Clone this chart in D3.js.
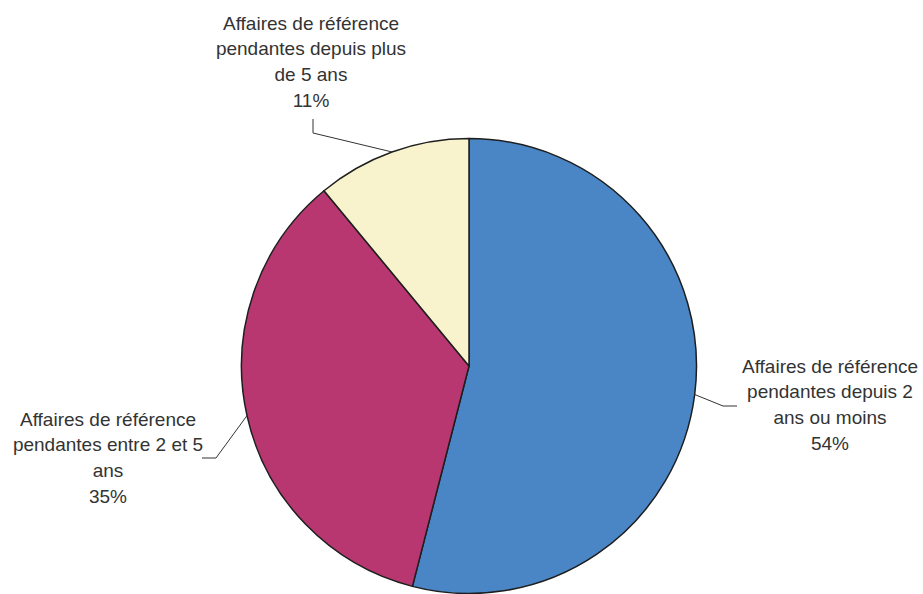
<!DOCTYPE html>
<html>
<head>
<meta charset="utf-8">
<script src="https://cdn.jsdelivr.net/npm/d3@7"></script>
<style>
  html, body { margin: 0; padding: 0; background: #fff; }
  svg { display: block; }
  text { font-family: "Liberation Sans", Arial, sans-serif; fill: #333; }
</style>
</head>
<body>
<svg id="chart" width="923" height="594"></svg>
<script>
// Pending reference cases by age
const categories = [
  "Affaires de référence pendantes depuis 2 ans ou moins",
  "Affaires de référence pendantes entre 2 et 5 ans",
  "Affaires de référence pendantes depuis plus de 5 ans"
];
const values = [54, 35, 11];
const labelLines = [
  ["Affaires de référence", "pendantes depuis 2", "ans ou moins"],
  ["Affaires de référence", "pendantes entre 2 et 5", "ans"],
  ["Affaires de référence", "pendantes depuis plus", "de 5 ans"]
];
const colors = ["#4a86c6", "#b83771", "#f8f3cd"];

const W = 923, H = 594;
const cx = 469, cy = 366, R = 227.5;

const svg = d3.select("#chart");
const g = svg.append("g").attr("transform", `translate(${cx},${cy})`);

const pie = d3.pie().sort(null).value(d => d);
const arcs = pie(values);
const arc = d3.arc().innerRadius(0).outerRadius(R);

g.selectAll("path.slice")
  .data(arcs)
  .join("path")
  .attr("class", "slice")
  .attr("d", arc)
  .attr("fill", (d, i) => colors[i])
  .attr("stroke", "#1e1e1e")
  .attr("stroke-width", 1.5)
  .attr("stroke-linejoin", "round");

// label placement: block centre x, first baseline y, leader elbow and end
const labelLayout = [
  { x: 830, y: 373, elbow: [723, 406], end: [737, 406] },
  { x: 108, y: 426, elbow: [216, 458], end: [202, 458] },
  { x: 311, y: 30,  elbow: [313, 133], end: [313, 119] }
];

const fmt = v => Math.round(v / d3.sum(values) * 100) + "%";
const lineGap = 25.3;

arcs.forEach((a, i) => {
  const mid = (a.startAngle + a.endAngle) / 2;
  const px = cx + R * Math.sin(mid);
  const py = cy - R * Math.cos(mid);
  const L = labelLayout[i];

  svg.append("polyline")
    .attr("points", [[px, py], L.elbow, L.end].map(p => p.join(",")).join(" "))
    .attr("fill", "none")
    .attr("stroke", "#333")
    .attr("stroke-width", 1);

  const t = svg.append("text")
    .attr("text-anchor", "middle")
    .attr("font-size", 19)
    .attr("x", L.x)
    .attr("y", L.y);
  labelLines[i].concat([fmt(a.value)]).forEach((s, k) => {
    t.append("tspan")
      .attr("x", L.x)
      .attr("y", L.y + k * lineGap + (k === 3 ? 0.8 : 0))
      .text(s);
  });
});
</script>
</body>
</html>
